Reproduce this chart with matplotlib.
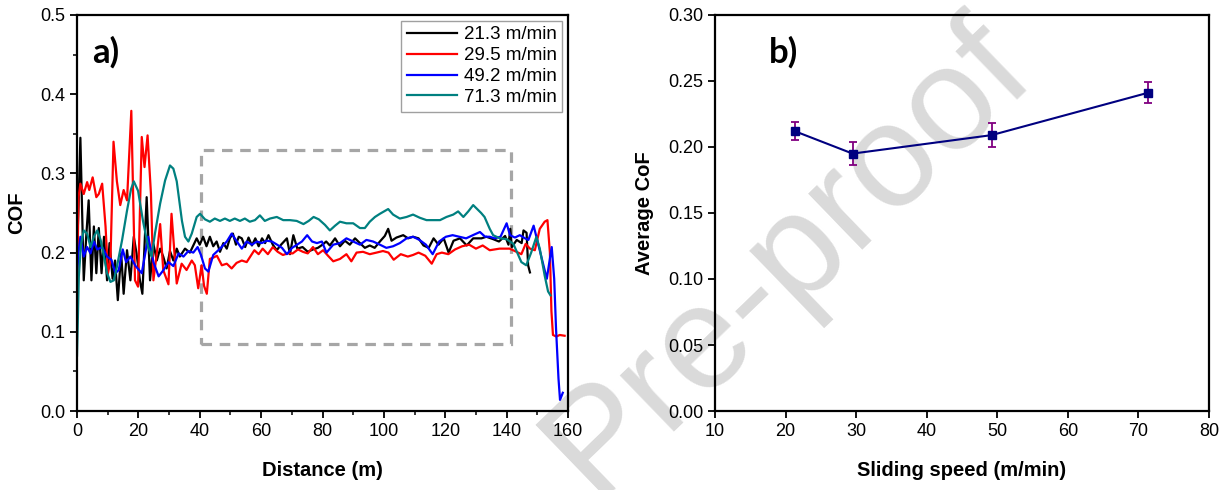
import matplotlib
matplotlib.use("Agg")
import matplotlib.pyplot as plt
from matplotlib.patches import Rectangle
from matplotlib.ticker import MultipleLocator, FormatStrFormatter

plt.rcParams['font.family'] = ['Liberation Sans', 'DejaVu Sans']

# ---- a) COF vs distance ----
d_213 = [0, 0.5, 1.1, 2.2, 3.0, 3.8, 4.7, 5.5, 6.3, 7.1,
         8.0, 8.8, 9.8, 10.6, 11.6, 12.4, 13.3, 14.4, 15.2, 16.3,
         17.4, 18.5, 19.4, 20.5, 21.3, 22.7, 23.8, 24.9, 26.0, 27.1,
         28.1, 29.2, 30.3, 31.4, 32.5, 33.5, 35.2, 36.8, 37.9, 39.0,
         40.0, 41.1, 42.2, 43.3, 44.4, 45.5, 46.6, 47.7, 48.8, 49.8,
         50.8, 51.8, 52.7, 53.7, 54.8, 55.9, 57.0, 58.1, 59.2, 60.3,
         61.3, 62.4, 63.8, 65.1, 66.5, 68.4, 69.4, 70.5, 71.8, 73.5,
         75.2, 76.9, 78.5, 80.0, 81.2, 82.4, 84.1, 85.7, 87.3, 88.9,
         90.6, 92.2, 93.8, 95.4, 97.0, 98.7, 100.3, 101.4, 102.5, 104.1,
         106.3, 107.9, 109.5, 111.3, 112.9, 114.6, 116.2, 117.8, 119.5, 121.1,
         122.7, 124.8, 127.0, 129.1, 131.8, 133.4, 135.6, 137.5, 139.5, 140.6,
         141.2, 141.7, 143.3, 144.9, 145.5, 146.5, 147.0, 147.6]
cof_213 = [0.20, 0.26, 0.345, 0.165, 0.22, 0.266, 0.165, 0.233, 0.174, 0.231,
           0.174, 0.22, 0.165, 0.212, 0.167, 0.19, 0.14, 0.199, 0.148, 0.203,
           0.165, 0.22, 0.199, 0.165, 0.148, 0.27, 0.165, 0.211, 0.19, 0.205,
           0.195, 0.18, 0.202, 0.19, 0.205, 0.195, 0.205, 0.20, 0.209, 0.218,
           0.21, 0.22, 0.208, 0.22, 0.208, 0.214, 0.201, 0.212, 0.205, 0.218,
           0.224, 0.21, 0.22, 0.218, 0.207, 0.219, 0.209, 0.218, 0.208, 0.218,
           0.212, 0.222, 0.21, 0.203, 0.21, 0.218, 0.198, 0.222, 0.205, 0.207,
           0.201, 0.204, 0.206, 0.21, 0.214, 0.209, 0.218, 0.208, 0.215, 0.21,
           0.218, 0.212, 0.206, 0.209, 0.206, 0.214, 0.221, 0.23, 0.215, 0.219,
           0.222, 0.218, 0.22, 0.218, 0.209, 0.206, 0.218, 0.21, 0.218, 0.2,
           0.215, 0.218, 0.209, 0.218, 0.218, 0.22, 0.217, 0.214, 0.221, 0.21,
           0.23, 0.207, 0.216, 0.212, 0.228, 0.225, 0.184, 0.175]

d_295 = [0, 0.5, 1.1, 2.2, 3.3, 4.0, 5.1, 6.3, 7.1, 8.2,
         9.3, 10.1, 10.9, 11.9, 13.0, 14.1, 15.2, 16.3, 17.7, 18.9,
         19.9, 21.1, 22.0, 23.0, 24.1, 24.9, 26.0, 27.1, 28.1, 29.8,
         30.8, 32.5, 34.1, 35.7, 37.4, 38.4, 39.5, 40.6, 41.4, 42.3,
         43.3, 44.6, 45.6, 47.2, 48.8, 50.4, 52.0, 53.7, 55.3, 57.8,
         59.2, 60.5, 62.2, 63.8, 65.4, 67.1, 68.7, 70.3, 72.0, 73.6,
         75.2, 76.9, 78.5, 80.2, 81.8, 83.5, 85.7, 87.8, 89.4, 91.1,
         93.2, 95.4, 97.6, 99.7, 101.5, 103.2, 105.5, 107.8, 109.5, 111.3,
         113.5, 115.6, 117.2, 118.9, 121.0, 123.2, 125.5, 127.8, 130.0, 132.2,
         134.5, 137.7, 141.0, 143.2, 144.8, 146.2, 147.6, 149.2, 150.8, 152.4,
         153.3, 154.1, 154.6, 155.1, 156.2, 157.3, 158.9]
cof_295 = [0.15, 0.27, 0.287, 0.274, 0.289, 0.279, 0.295, 0.27, 0.274, 0.287,
           0.233, 0.174, 0.19, 0.34, 0.29, 0.26, 0.279, 0.266, 0.379, 0.165,
           0.157, 0.346, 0.308, 0.348, 0.274, 0.165, 0.199, 0.236, 0.178, 0.16,
           0.249, 0.161, 0.186, 0.178, 0.19, 0.184, 0.155, 0.184, 0.158, 0.148,
           0.192, 0.194, 0.196, 0.184, 0.186, 0.18, 0.187, 0.19, 0.188, 0.203,
           0.198, 0.205, 0.198, 0.207, 0.201, 0.197, 0.199, 0.199, 0.204, 0.201,
           0.199, 0.207, 0.198, 0.203, 0.196, 0.189, 0.192, 0.198, 0.189, 0.2,
           0.201, 0.198, 0.2, 0.202, 0.2, 0.191, 0.198, 0.195, 0.197, 0.2,
           0.196, 0.186, 0.198, 0.2, 0.198, 0.204, 0.208, 0.21, 0.205, 0.209,
           0.203, 0.205, 0.205, 0.201, 0.198, 0.211, 0.205, 0.203, 0.23, 0.239,
           0.241, 0.2, 0.126, 0.096, 0.094, 0.096, 0.095]

d_492 = [0, 0.5, 1.1, 2.2, 3.3, 4.4, 5.5, 6.6, 8.2, 9.8,
         11.2, 12.5, 13.6, 14.9, 16.0, 17.4, 19.1, 21.1, 23.2, 24.9,
         26.6, 28.2, 29.8, 31.4, 33.1, 34.7, 36.3, 37.9, 39.3, 40.4,
         41.7, 42.8, 44.4, 46.6, 48.8, 50.4, 52.1, 53.7, 55.3, 57.0,
         58.6, 60.2, 61.9, 63.5, 65.2, 66.8, 68.4, 70.1, 71.7, 73.3,
         75.0, 76.6, 78.2, 79.8, 81.3, 83.5, 85.7, 87.8, 90.0, 92.2,
         94.3, 96.5, 98.7, 100.8, 103.0, 105.2, 107.4, 109.5, 111.6, 113.7,
         115.9, 118.0, 120.2, 122.4, 124.6, 126.8, 129.0, 131.3, 133.0, 134.5,
         136.1, 138.0, 140.0, 141.1, 142.7, 144.3, 146.0, 147.1, 148.8, 150.4,
         152.0, 153.1, 154.0, 154.7, 155.5, 156.1, 156.9, 157.4, 158.3]
cof_492 = [0.17, 0.2, 0.22, 0.195, 0.207, 0.199, 0.214, 0.204, 0.207, 0.195,
           0.191, 0.174, 0.178, 0.204, 0.188, 0.195, 0.183, 0.174, 0.22, 0.188,
           0.17, 0.178, 0.188, 0.183, 0.199, 0.195, 0.202, 0.2, 0.207, 0.197,
           0.18, 0.176, 0.197, 0.205, 0.214, 0.224, 0.214, 0.205, 0.214, 0.21,
           0.214, 0.212, 0.215, 0.214, 0.21, 0.206, 0.198, 0.206, 0.21, 0.214,
           0.222, 0.214, 0.212, 0.214, 0.2, 0.21, 0.212, 0.218, 0.214, 0.21,
           0.216, 0.214, 0.21, 0.206, 0.208, 0.212, 0.218, 0.22, 0.216, 0.21,
           0.198, 0.214, 0.22, 0.222, 0.22, 0.218, 0.222, 0.226, 0.22, 0.22,
           0.218, 0.22, 0.237, 0.222, 0.219, 0.222, 0.218, 0.216, 0.234, 0.209,
           0.184, 0.167, 0.19, 0.207, 0.167, 0.104, 0.041, 0.014, 0.023]

d_713 = [0, 0.6, 1.3, 2.2, 3.3, 4.4, 5.5, 6.6, 7.7, 8.8,
         9.8, 10.9, 12.0, 13.0, 14.7, 16.3, 17.6, 18.5, 19.9, 21.5,
         23.2, 24.3, 25.4, 27.1, 28.7, 30.3, 31.4, 32.5, 34.2, 35.2,
         36.3, 37.4, 39.0, 40.1, 41.7, 43.3, 44.9, 46.6, 48.2, 49.8,
         51.4, 53.1, 54.7, 56.3, 58.0, 59.6, 61.2, 62.9, 65.1, 67.2,
         69.4, 71.6, 73.8, 75.5, 77.1, 78.8, 80.8, 82.4, 84.1, 85.7,
         87.8, 90.0, 92.2, 93.8, 95.4, 97.1, 98.7, 101.4, 103.0, 105.2,
         107.4, 109.5, 111.7, 113.9, 116.1, 118.3, 120.4, 122.6, 124.2, 125.9,
         127.5, 129.1, 131.7, 132.8, 134.5, 135.6, 137.8, 140.0, 142.2, 144.8,
         146.4, 148.0, 149.7, 150.8, 152.4, 153.5, 154.3]
cof_713 = [0.07, 0.17, 0.21, 0.228, 0.224, 0.207, 0.22, 0.228, 0.216, 0.195,
           0.174, 0.163, 0.165, 0.182, 0.216, 0.253, 0.28, 0.29, 0.278, 0.24,
           0.207, 0.195, 0.224, 0.262, 0.291, 0.31, 0.306, 0.29, 0.24, 0.22,
           0.214, 0.224, 0.245, 0.249, 0.242, 0.239, 0.243, 0.24, 0.243, 0.24,
           0.243, 0.24, 0.243, 0.239, 0.241, 0.247, 0.24, 0.243, 0.245, 0.241,
           0.241, 0.24, 0.236, 0.24, 0.245, 0.242, 0.235, 0.228, 0.234, 0.239,
           0.237, 0.237, 0.231, 0.231, 0.239, 0.245, 0.249, 0.255, 0.248, 0.243,
           0.245, 0.248, 0.244, 0.241, 0.241, 0.241, 0.245, 0.248, 0.252, 0.245,
           0.252, 0.26, 0.25, 0.245, 0.23, 0.222, 0.218, 0.217, 0.211, 0.188,
           0.184, 0.2, 0.22, 0.205, 0.171, 0.151, 0.146]

# ---- b) average CoF vs sliding speed ----
speed = [21.3, 29.5, 49.2, 71.3]
avg_cof = [0.212, 0.195, 0.209, 0.241]
avg_err = [0.007, 0.009, 0.009, 0.008]

fig = plt.figure(figsize=(12.28, 4.9), dpi=100)
W, H = 1228, 490
ax1 = fig.add_axes([77 / W, 1 - 411 / H, (568 - 77) / W, (411 - 15) / H])
ax2 = fig.add_axes([715 / W, 1 - 411 / H, (1209 - 715) / W, (411 - 15) / H])

# watermark behind everything
fig.text(0.642, 0.475, 'Pre-proof', rotation=44, fontsize=106, color='#dadada',
         ha='center', va='center', zorder=-1)

for ax in (ax1, ax2):
    ax.set_facecolor('none')
    for s in ax.spines.values():
        s.set_linewidth(1.6)
    ax.tick_params(which='major', direction='out', length=5, width=1.3,
                   labelsize=13, top=False, right=False)
    ax.tick_params(which='minor', direction='out', length=3, width=1.1,
                   top=False, right=False)

ax1.plot(d_213, cof_213, color='black', lw=1.6, label='21.3 m/min')
ax1.plot(d_295, cof_295, color='#ff0000', lw=1.6, label='29.5 m/min')
ax1.plot(d_492, cof_492, color='#0000ff', lw=1.6, label='49.2 m/min')
ax1.plot(d_713, cof_713, color='#008080', lw=1.6, label='71.3 m/min')
ax1.add_patch(Rectangle((40.5, 0.085), 101, 0.245, fill=False,
                        edgecolor='#a6a6a6', lw=2.3, ls=(0, (3.3, 2.4))))
ax1.set_xlim(0, 160)
ax1.set_ylim(0, 0.5)
ax1.xaxis.set_major_locator(MultipleLocator(20))
ax1.xaxis.set_minor_locator(MultipleLocator(10))
ax1.yaxis.set_major_locator(MultipleLocator(0.1))
ax1.yaxis.set_minor_locator(MultipleLocator(0.05))
ax1.yaxis.set_major_formatter(FormatStrFormatter('%.1f'))
ax1.set_xlabel('Distance (m)', fontsize=14.5, fontweight='bold', labelpad=15)
ax1.set_ylabel('COF', fontsize=14.5, fontweight='bold', labelpad=10)
ax1.text(0.03, 0.905, 'a)', transform=ax1.transAxes, fontsize=25,
         fontweight='bold', family='Lato', va='center')
leg = ax1.legend(loc='upper right', fontsize=13.5, handlelength=2.7,
                 borderaxespad=0.3, fancybox=False, framealpha=1,
                 edgecolor='#a0a0a0', labelspacing=0.2, handletextpad=0.35,
                 borderpad=0.3)
leg.get_frame().set_linewidth(1.0)

ax2.errorbar(speed, avg_cof, yerr=avg_err, color='#000080', lw=1.5,
             marker='s', markersize=6, ecolor='#800080', elinewidth=1.3,
             capsize=3.2, capthick=1.3)
ax2.set_xlim(10, 80)
ax2.set_ylim(0, 0.30)
ax2.xaxis.set_major_locator(MultipleLocator(10))
ax2.yaxis.set_major_locator(MultipleLocator(0.05))
ax2.yaxis.set_major_formatter(FormatStrFormatter('%.2f'))
ax2.set_xlabel('Sliding speed (m/min)', fontsize=14.5, fontweight='bold', labelpad=15)
ax2.set_ylabel('Average CoF', fontsize=14.5, fontweight='bold', labelpad=10)
ax2.text(0.11, 0.905, 'b)', transform=ax2.transAxes, fontsize=25,
         fontweight='bold', family='Lato', va='center')

fig.savefig('out.png', dpi=100)
